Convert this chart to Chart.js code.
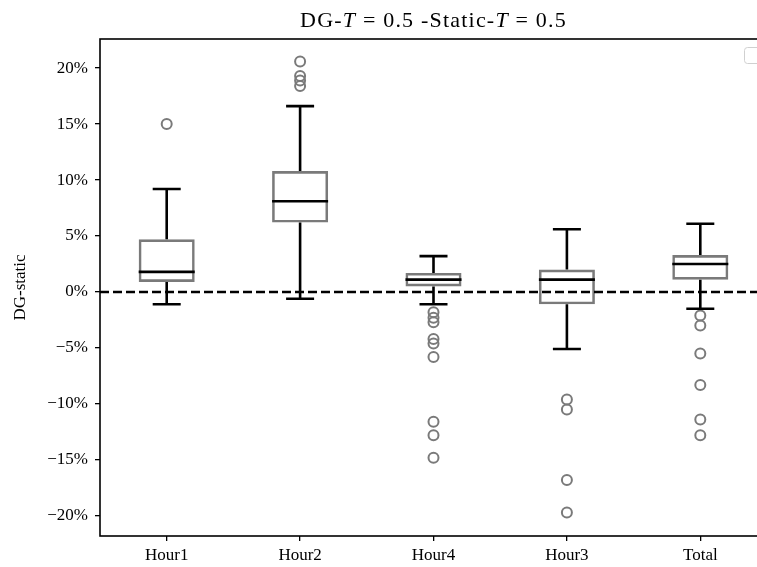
<!DOCTYPE html>
<html>
<head>
<meta charset="utf-8">
<script src="https://cdn.jsdelivr.net/npm/chart.js@4.4.1/dist/chart.umd.min.js"></script>
<style>
    html, body { margin: 0; padding: 0; background: #fff; overflow: hidden; }
    #wrap { position: absolute; left: 0; top: 0; width: 790px; height: 567px; }
</style>
</head>
<body>
<div id="wrap"><canvas id="boxChart" width="790" height="567"></canvas></div>
<script>
// values in percent
const categories = ["Hour1", "Hour2", "Hour4", "Hour3", "Total"];
const whiskerLow = [-1.1, -0.6, -1.1, -5.1, -1.5];
const q1 = [0.9, 6.2, 0.5, -1.1, 1.1];
const median = [1.8, 8.1, 1.1, 1.1, 2.5];
const q3 = [4.7, 10.8, 1.7, 2.0, 3.3];
const whiskerHigh = [9.2, 16.6, 3.2, 5.6, 6.1];
const outliers = [
    [15.0],
    [20.6, 19.3, 18.9, 18.4],
    [-1.8, -2.3, -2.7, -4.2, -4.6, -5.8, -11.6, -12.8, -14.8],
    [-9.6, -10.5, -16.8, -19.7],
    [-2.1, -3.0, -5.5, -8.3, -11.4, -12.8],
];
const yTicks = [-20, -15, -10, -5, 0, 5, 10, 15, 20];

const serif = "'Liberation Serif', 'DejaVu Serif', serif";
const boxGray = "#7a7a7a";

// whiskers, caps, medians, zero line, frame and title
const boxParts = {
    id: "boxParts",
    afterDatasetsDraw(chart) {
        const { ctx, chartArea, scales } = chart;
        const y = scales.y;
        const meta = chart.getDatasetMeta(0);
        ctx.save();
        ctx.strokeStyle = "#000";
        ctx.lineWidth = 2.6;
        categories.forEach((c, i) => {
            const bar = meta.data[i];
            const cx = bar.x;
            const half = bar.width / 2;
            const cap = half / 2;
            ctx.beginPath();
            ctx.moveTo(cx, y.getPixelForValue(q3[i]));
            ctx.lineTo(cx, y.getPixelForValue(whiskerHigh[i]));
            ctx.moveTo(cx, y.getPixelForValue(q1[i]));
            ctx.lineTo(cx, y.getPixelForValue(whiskerLow[i]));
            ctx.moveTo(cx - cap, y.getPixelForValue(whiskerHigh[i]));
            ctx.lineTo(cx + cap, y.getPixelForValue(whiskerHigh[i]));
            ctx.moveTo(cx - cap, y.getPixelForValue(whiskerLow[i]));
            ctx.lineTo(cx + cap, y.getPixelForValue(whiskerLow[i]));
            ctx.moveTo(cx - half, y.getPixelForValue(median[i]));
            ctx.lineTo(cx + half, y.getPixelForValue(median[i]));
            ctx.stroke();
        });

        // dashed zero line
        const y0 = y.getPixelForValue(0);
        ctx.setLineDash([9, 4]);
        ctx.beginPath();
        ctx.moveTo(chartArea.left, y0);
        ctx.lineTo(chartArea.right, y0);
        ctx.stroke();
        ctx.setLineDash([]);
        ctx.restore();
    },
    afterDraw(chart) {
        const { ctx, chartArea } = chart;
        ctx.save();
        // axes frame
        ctx.strokeStyle = "#000";
        ctx.lineWidth = 1.6;
        ctx.strokeRect(chartArea.left, chartArea.top, chartArea.right - chartArea.left, chartArea.bottom - chartArea.top);

        // empty legend box in the corner
        ctx.strokeStyle = "#d0d0d0";
        ctx.fillStyle = "rgba(255,255,255,0.8)";
        ctx.lineWidth = 1;
        ctx.beginPath();
        ctx.roundRect(744.5, 47.5, 30, 16, 3);
        ctx.fill();
        ctx.stroke();

        // title with italic T
        const parts = [
            ["DG-", false], ["T", true], [" = 0.5 -Static-", false],
            ["T", true], [" = 0.5", false],
        ];
        const size = 22;
        const fontFor = (it) => (it ? "italic " : "") + size + "px " + serif;
        ctx.fillStyle = "#000";
        ctx.textBaseline = "alphabetic";
        ctx.textAlign = "left";
        ctx.letterSpacing = "1.2px";
        let total = 0;
        parts.forEach(([t, it]) => { ctx.font = fontFor(it); total += ctx.measureText(t).width; });
        let x = (chartArea.left + chartArea.right) / 2 - total / 2;
        parts.forEach(([t, it]) => {
            ctx.font = fontFor(it);
            ctx.fillText(t, x, 27);
            x += ctx.measureText(t).width;
        });
        ctx.restore();
    },
};

const outlierPoints = categories.flatMap((c, i) => outliers[i].map((v) => ({ x: c, y: v })));

new Chart(document.getElementById("boxChart").getContext("2d"), {
    type: "bar",
    data: {
        labels: categories,
        datasets: [
            {
                label: "box",
                data: categories.map((c, i) => [q1[i], q3[i]]),
                backgroundColor: "rgba(0,0,0,0)",
                borderColor: boxGray,
                borderWidth: 2.6,
                borderSkipped: false,
                categoryPercentage: 1,
                barPercentage: 0.42,
            },
            {
                type: "line",
                label: "outliers",
                data: outlierPoints,
                showLine: false,
                pointStyle: "circle",
                pointRadius: 5,
                pointBorderWidth: 2,
                pointBorderColor: boxGray,
                pointBackgroundColor: "rgba(0,0,0,0)",
            },
        ],
    },
    options: {
        responsive: false,
        animation: false,
        layout: { padding: { top: 39, right: 23, left: 0, bottom: 0 } },
        plugins: {
            legend: { display: false },
            tooltip: { enabled: false },
            title: { display: false },
        },
        scales: {
            x: {
                type: "category",
                offset: true,
                border: { display: false },
                grid: { drawOnChartArea: false, drawTicks: true, tickLength: 5, color: "#000", lineWidth: 1.3, offset: false },
                ticks: { color: "#000", font: { family: serif, size: 17 }, padding: 4, maxRotation: 0 },
                afterFit: (scale) => { scale.height = 31; },
            },
            y: {
                min: -21.8,
                max: 22.6,
                border: { display: false },
                grid: { drawOnChartArea: false, drawTicks: true, tickLength: 5, color: "#000", lineWidth: 1.3 },
                afterBuildTicks: (scale) => { scale.ticks = yTicks.map((v) => ({ value: v })); },
                ticks: {
                    color: "#000",
                    font: { family: serif, size: 17 },
                    padding: 7,
                    callback: (v) => (v < 0 ? "\u2212" + Math.abs(v) : v) + "%",
                },
                title: {
                    display: true,
                    text: "DG-static",
                    color: "#000",
                    font: { family: serif, size: 17 },
                    padding: { top: 10, bottom: 0 },
                },
                afterFit: (scale) => { scale.width = 100; },
            },
        },
    },
    plugins: [boxParts],
});
</script>
</body>
</html>
